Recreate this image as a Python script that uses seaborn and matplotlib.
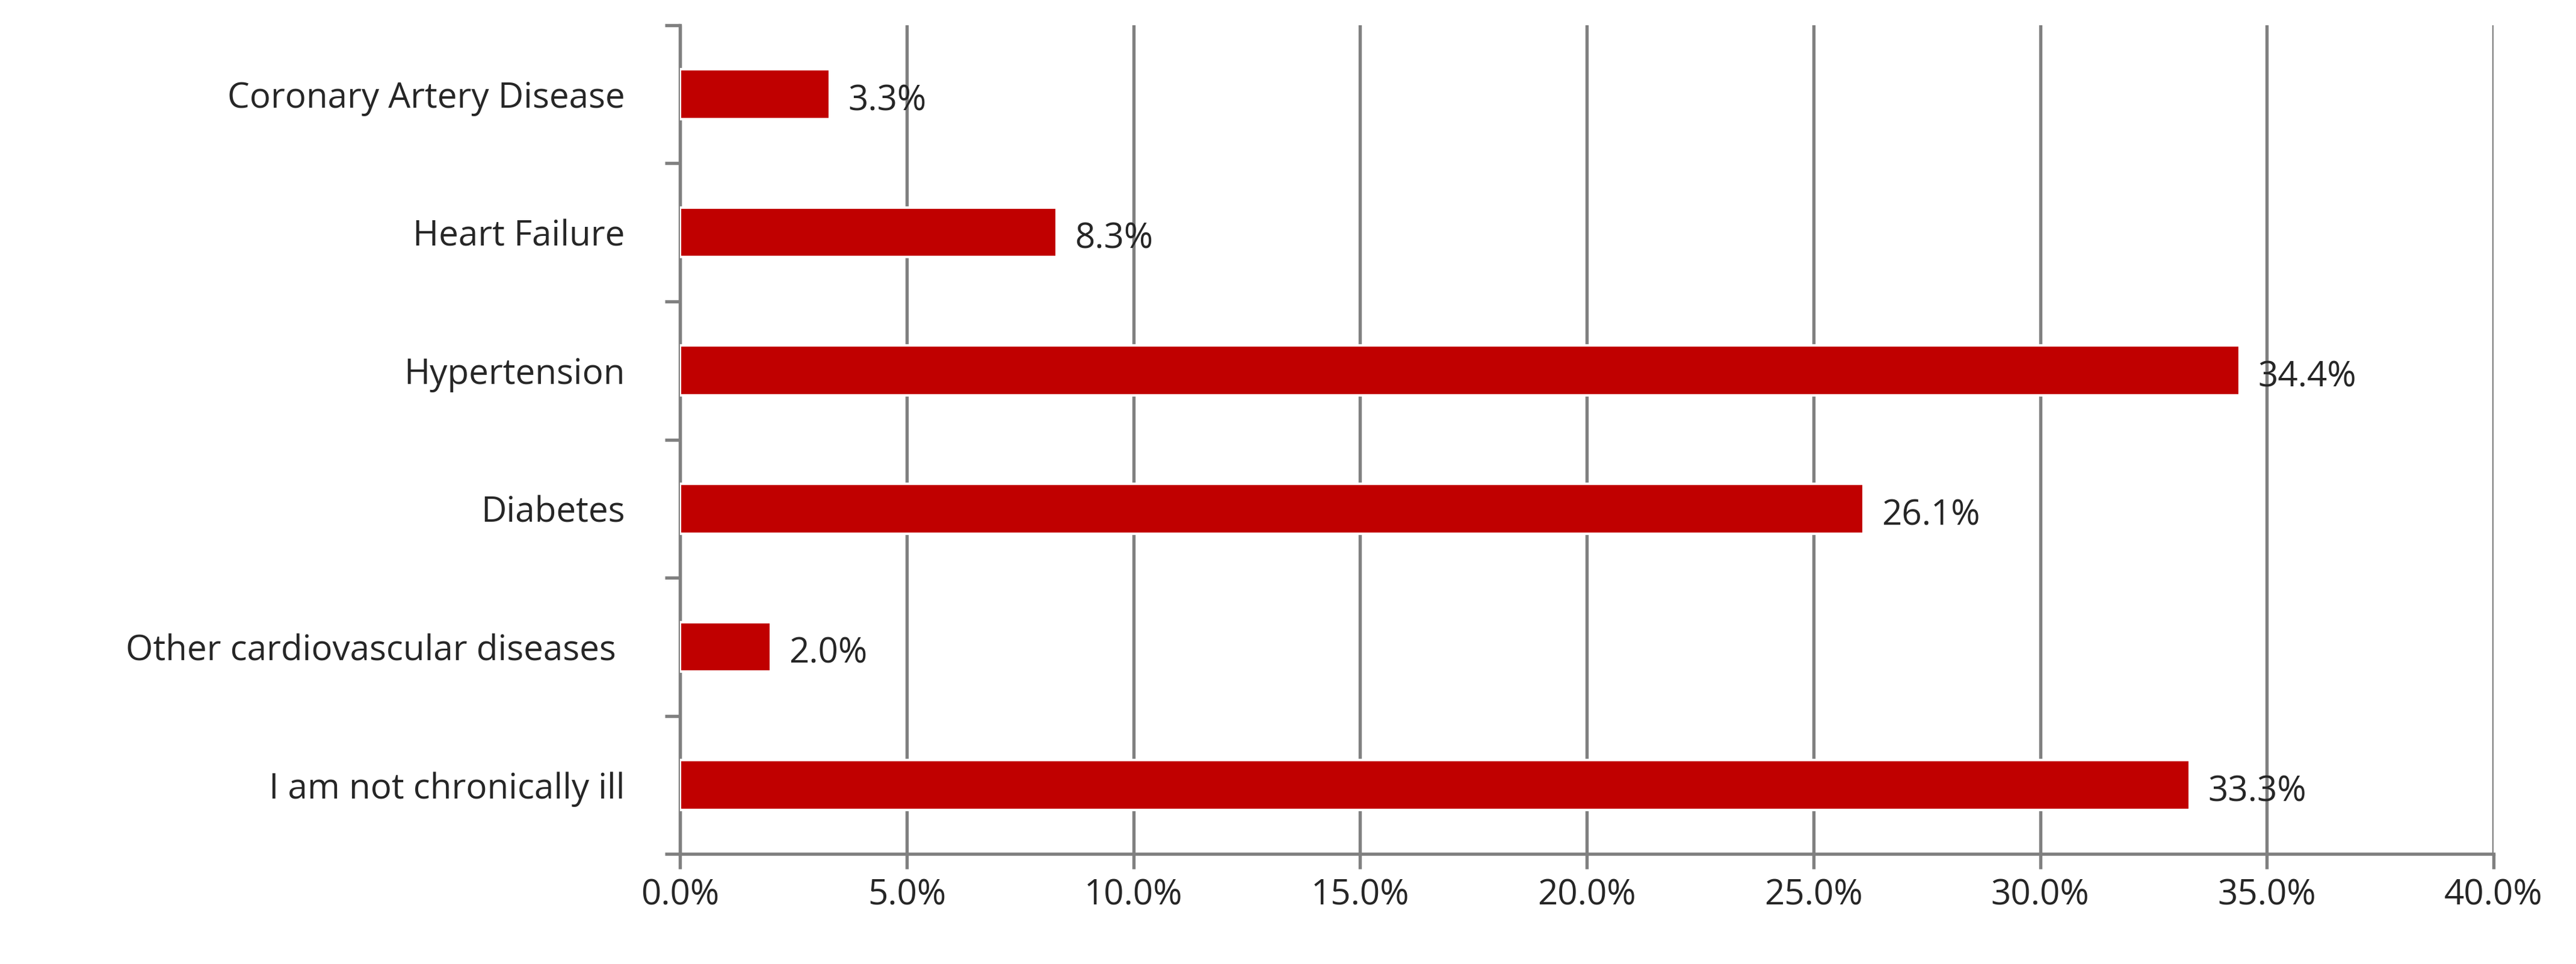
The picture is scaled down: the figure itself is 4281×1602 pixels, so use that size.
import matplotlib
matplotlib.use("Agg")
import matplotlib.pyplot as plt
import seaborn as sns
import pandas as pd
import numpy as np
from matplotlib.ticker import FuncFormatter, FixedLocator

categories = ["Coronary Artery Disease", "Heart Failure", "Hypertension",
              "Diabetes", "Other cardiovascular diseases ", "I am not chronically ill"]
values = [3.3, 8.3, 34.4, 26.1, 2.0, 33.3]

sns.set_style("white")
plt.rcParams['font.family'] = ['Open Sans', 'DejaVu Sans']

df = pd.DataFrame({"cat": categories, "val": values})
fig, ax = plt.subplots(figsize=(14.27, 5.34), dpi=300)
fig.subplots_adjust(left=0.264, right=0.968, top=0.974, bottom=0.114)

sns.barplot(data=df, x="val", y="cat", color="#C00000", width=0.36,
            saturation=1, ax=ax, zorder=3)

ax.set_xlim(0, 40)
ax.set_ylim(len(categories) - 0.5, -0.5)
ax.set_xticks(np.arange(0, 41, 5))
ax.xaxis.set_major_formatter(FuncFormatter(lambda v, p: f"{v:.1f}%"))
ax.grid(axis="x", color="#808080", linewidth=1.3, zorder=0)
ax.set_xlabel("")
ax.set_ylabel("")

for i, v in enumerate(values):
    ax.text(v + 0.4, i + 0.05, f"{v:.1f}%", va="center", ha="left", fontsize=14)

# category boundaries as ticks on y-axis
ax.yaxis.set_major_locator(FixedLocator(np.arange(len(categories))))
ax.yaxis.set_minor_locator(FixedLocator(np.arange(-0.5, len(categories), 1)))
ax.tick_params(axis="y", which="major", length=0, labelsize=14, pad=22)
ax.tick_params(axis="y", which="minor", length=6, color="#808080", width=1.3, direction="out", left=True)
ax.tick_params(axis="x", length=6, color="#808080", width=1.3, labelsize=14, bottom=True)

for s in ["top", "right"]:
    ax.spines[s].set_visible(False)
for s in ["left", "bottom"]:
    ax.spines[s].set_color("#808080")
    ax.spines[s].set_linewidth(1.3)

fig.savefig("out.png", dpi=300)
